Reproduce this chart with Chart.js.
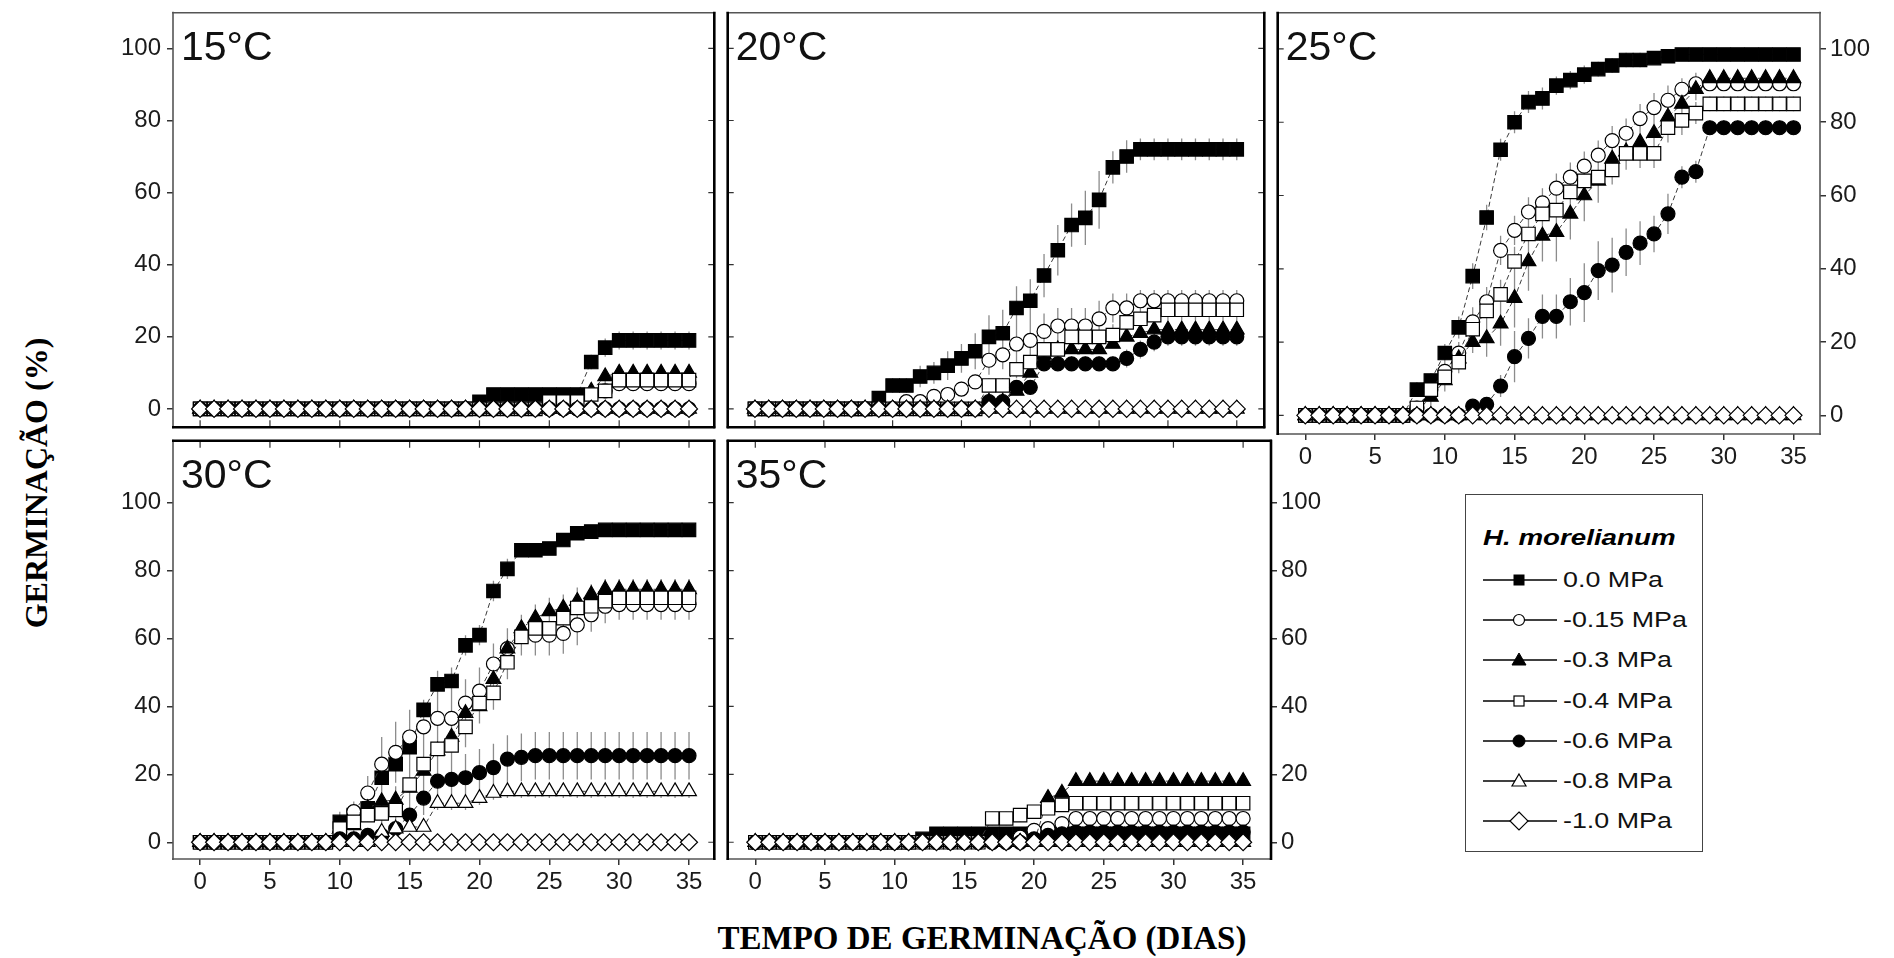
<!DOCTYPE html>
<html>
<head>
<meta charset="utf-8">
<script src="https://cdn.jsdelivr.net/npm/chart.js@4.4.1/dist/chart.umd.min.js"></script>
<style>
    body { margin: 0; background: #ffffff; }
    #page { position: relative; width: 1894px; height: 958px; overflow: hidden; background: #ffffff; font-family: "Liberation Sans", Arial, sans-serif; }
    #page canvas { position: absolute; }
    .axis-title { position: absolute; white-space: nowrap; font: bold 32px "Liberation Serif", "Times New Roman", serif; color: #000; }
    #legend { position: absolute; left: 1465px; top: 494px; width: 238px; height: 358px; border: 1.5px solid #444; box-sizing: border-box; }
    #legend .ltitle { position: absolute; left: 17px; top: 30px; line-height: 24px; font: italic bold 22px "Liberation Sans", Arial, sans-serif; transform: scaleX(1.26); transform-origin: left center; color: #000; }
    #legend .row { position: absolute; left: 17px; height: 24px; display: flex; align-items: center; }
    #legend .row span { display: inline-block; margin-left: 6px; font-size: 22px; color: #111; transform: scaleX(1.22); transform-origin: left center; white-space: nowrap; }
</style>
</head>
<body>
<div id="page">
    <div class="axis-title" style="left: 36px; top: 483px; transform: translate(-50%, -50%) rotate(-90deg);">GERMINAÇÃO (%)</div>
    <div class="axis-title" style="left: 982px; top: 938px; font-size: 33px; transform: translate(-50%, -50%);">TEMPO DE GERMINAÇÃO (DIAS)</div>
    <div id="legend"><div class="ltitle">H. morelianum</div></div>
</div>

<script>
// Categories and ticks
const days = [0, 1, 2, 3, 4, 5, 6, 7, 8, 9, 10, 11, 12, 13, 14, 15, 16, 17, 18, 19, 20, 21, 22, 23, 24, 25, 26, 27, 28, 29, 30, 31, 32, 33, 34, 35];
const xTicks = [0, 5, 10, 15, 20, 25, 30, 35];
const yTicks = [0, 20, 40, 60, 80, 100];
const seriesLabels = ["0.0 MPa", "-0.15 MPa", "-0.3 MPa", "-0.4 MPa", "-0.6 MPa", "-0.8 MPa", "-1.0 MPa"];
const panelLabels = ["15°C", "20°C", "25°C", "30°C", "35°C"];

// 15°C
const g15_00 = [0, 0, 0, 0, 0, 0, 0, 0, 0, 0, 0, 0, 0, 0, 0, 0, 0, 0, 0, 0, 2, 4, 4, 4, 4, 4, 4, 4, 13, 17, 19, 19, 19, 19, 19, 19];
const g15_015 = [0, 0, 0, 0, 0, 0, 0, 0, 0, 0, 0, 0, 0, 0, 0, 0, 0, 0, 0, 0, 0, 0, 0, 0, 0, 0, 0, 0, 4, 5, 7, 7, 7, 7, 7, 7];
const g15_03 = [0, 0, 0, 0, 0, 0, 0, 0, 0, 0, 0, 0, 0, 0, 0, 0, 0, 0, 0, 0, 0, 0, 0, 0, 0, 0, 0, 0, 5, 9, 10, 10, 10, 10, 10, 10];
const g15_04 = [0, 0, 0, 0, 0, 0, 0, 0, 0, 0, 0, 0, 0, 0, 0, 0, 0, 0, 0, 0, 0, 0, 0, 0, 0, 2, 2, 2, 4, 5, 8, 8, 8, 8, 8, 8];
const g15_06 = [0, 0, 0, 0, 0, 0, 0, 0, 0, 0, 0, 0, 0, 0, 0, 0, 0, 0, 0, 0, 0, 0, 0, 0, 0, 0, 0, 0, 0, 0, 0, 0, 0, 0, 0, 0];
const g15_08 = [0, 0, 0, 0, 0, 0, 0, 0, 0, 0, 0, 0, 0, 0, 0, 0, 0, 0, 0, 0, 0, 0, 0, 0, 0, 0, 0, 0, 0, 0, 0, 0, 0, 0, 0, 0];
const g15_10 = [0, 0, 0, 0, 0, 0, 0, 0, 0, 0, 0, 0, 0, 0, 0, 0, 0, 0, 0, 0, 0, 0, 0, 0, 0, 0, 0, 0, 0, 0, 0, 0, 0, 0, 0, 0];

// 20°C
const g20_00 = [0, 0, 0, 0, 0, 0, 0, 0, 0, 3, 6.5, 6.5, 9, 10, 12, 14, 16, 20, 21, 28, 30, 37, 44, 51, 53, 58, 67, 70, 72, 72, 72, 72, 72, 72, 72, 72];
const g20_015 = [0, 0, 0, 0, 0, 0, 0, 0, 0, 0, 0, 2, 2, 3.5, 4, 5.5, 7.5, 13.5, 15, 18, 19, 21.5, 23, 23, 23, 25, 28, 28, 30, 30, 30, 30, 30, 30, 30, 30];
const g20_03 = [0, 0, 0, 0, 0, 0, 0, 0, 0, 0, 0, 0, 0, 0, 0, 0, 0, 2, 2, 5, 10, 15, 16.5, 16.5, 16.5, 16.5, 18, 20, 21, 22, 22, 22, 22, 22, 22, 22];
const g20_04 = [0, 0, 0, 0, 0, 0, 0, 0, 0, 0, 0, 0, 0, 0, 0, 0, 0, 6.5, 6.5, 11, 13, 16.5, 16.5, 20, 20, 20, 20.5, 24, 25, 26, 27.5, 27.5, 27.5, 27.5, 27.5, 27.5];
const g20_06 = [0, 0, 0, 0, 0, 0, 0, 0, 0, 0, 0, 0, 0, 0, 0, 0, 0, 2, 2, 6, 6, 12.5, 12.5, 12.5, 12.5, 12.5, 12.5, 14, 16.5, 18.5, 20, 20, 20, 20, 20, 20];
const g20_08 = [0, 0, 0, 0, 0, 0, 0, 0, 0, 0, 0, 0, 0, 0, 0, 0, 0, 0, 0, 0, 0, 0, 0, 0, 0, 0, 0, 0, 0, 0, 0, 0, 0, 0, 0, 0];
const g20_10 = [0, 0, 0, 0, 0, 0, 0, 0, 0, 0, 0, 0, 0, 0, 0, 0, 0, 0, 0, 0, 0, 0, 0, 0, 0, 0, 0, 0, 0, 0, 0, 0, 0, 0, 0, 0];

// 25°C
const g25_00 = [0, 0, 0, 0, 0, 0, 0, 0, 7, 9.5, 17, 24, 38, 54, 72.5, 80, 85.5, 86.5, 90, 91.5, 93, 94.5, 95.5, 97, 97, 97.5, 98, 98.5, 98.5, 98.5, 98.5, 98.5, 98.5, 98.5, 98.5, 98.5];
const g25_015 = [0, 0, 0, 0, 0, 0, 0, 0, 2, 7, 12, 17, 25.5, 31, 45, 50.5, 55.5, 58, 62, 65, 68, 71, 75, 77, 81, 84, 86, 89, 90.5, 90.5, 90.5, 90.5, 90.5, 90.5, 90.5, 90.5];
const g25_03 = [0, 0, 0, 0, 0, 0, 0, 0, 1, 5, 9.5, 15.5, 20, 21, 25, 32, 42, 49, 50, 55, 60, 64, 70, 72, 74.5, 77, 81.5, 85, 89, 92, 92, 92, 92, 92, 92, 92];
const g25_04 = [0, 0, 0, 0, 0, 0, 0, 0, 2, 7, 10.5, 14.5, 23.5, 28.5, 33, 42, 49.5, 55, 56, 61, 64, 65, 67, 71.5, 71.5, 71.5, 78.5, 80.5, 82.5, 85, 85, 85, 85, 85, 85, 85];
const g25_06 = [0, 0, 0, 0, 0, 0, 0, 0, 0, 0, 0, 0, 2.5, 3, 8, 16, 21, 27, 27, 31, 33.5, 39.5, 41, 44.5, 47, 49.5, 55, 65, 66.5, 78.5, 78.5, 78.5, 78.5, 78.5, 78.5, 78.5];
const g25_08 = [0, 0, 0, 0, 0, 0, 0, 0, 0, 0, 0, 0, 0, 0, 0, 0, 0, 0, 0, 0, 0, 0, 0, 0, 0, 0, 0, 0, 0, 0, 0, 0, 0, 0, 0, 0];
const g25_10 = [0, 0, 0, 0, 0, 0, 0, 0, 0, 0, 0, 0, 0, 0, 0, 0, 0, 0, 0, 0, 0, 0, 0, 0, 0, 0, 0, 0, 0, 0, 0, 0, 0, 0, 0, 0];

// 30°C
const g30_00 = [0, 0, 0, 0, 0, 0, 0, 0, 0, 0, 6, 8, 10, 19, 23, 28, 39, 46.5, 47.5, 58, 61, 74, 80.5, 86, 86, 86.5, 89, 91, 91.5, 92, 92, 92, 92, 92, 92, 92];
const g30_015 = [0, 0, 0, 0, 0, 0, 0, 0, 0, 0, 3, 9, 14.5, 23, 26.5, 31, 34, 36.5, 36.5, 41, 44.5, 52.5, 57, 61, 61, 61, 61.5, 64, 67, 69.5, 70, 70, 70, 70, 70, 70];
const g30_03 = [0, 0, 0, 0, 0, 0, 0, 0, 0, 0, 2, 5, 10, 12, 12.5, 16, 21, 27, 31, 38, 40, 48, 57, 63, 66, 68, 69, 71, 73, 74.5, 74.5, 74.5, 74.5, 74.5, 74.5, 74.5];
const g30_04 = [0, 0, 0, 0, 0, 0, 0, 0, 0, 0, 4, 6, 8, 8.5, 9.5, 17, 23, 27.5, 28.5, 34, 41, 44, 53, 60.5, 63, 63, 66, 69, 69.5, 71, 72, 72, 72, 72, 72, 72];
const g30_06 = [0, 0, 0, 0, 0, 0, 0, 0, 0, 0, 1, 1, 2, 2, 4, 8, 13, 18, 18.5, 19, 20.5, 22, 24.5, 25, 25.5, 25.5, 25.5, 25.5, 25.5, 25.5, 25.5, 25.5, 25.5, 25.5, 25.5, 25.5];
const g30_08 = [0, 0, 0, 0, 0, 0, 0, 0, 0, 0, 0, 0, 0, 3, 4, 4.5, 4.5, 11.5, 11.5, 11.5, 13, 14.5, 15, 15, 15, 15, 15, 15, 15, 15, 15, 15, 15, 15, 15, 15];
const g30_10 = [0, 0, 0, 0, 0, 0, 0, 0, 0, 0, 0, 0, 0, 0, 0, 0, 0, 0, 0, 0, 0, 0, 0, 0, 0, 0, 0, 0, 0, 0, 0, 0, 0, 0, 0, 0];

// 35°C
const g35_00 = [0, 0, 0, 0, 0, 0, 0, 0, 0, 0, 0, 0, 1, 2.5, 2.5, 2.5, 2.5, 2.5, 2.5, 2.5, 2.5, 2.5, 2.5, 2.5, 2.5, 2.5, 2.5, 2.5, 2.5, 2.5, 2.5, 2.5, 2.5, 2.5, 2.5, 2.5];
const g35_015 = [0, 0, 0, 0, 0, 0, 0, 0, 0, 0, 0, 0, 0, 0, 0, 0, 0, 0, 0, 1.5, 3.5, 4, 5.5, 7, 7, 7, 7, 7, 7, 7, 7, 7, 7, 7, 7, 7];
const g35_03 = [0, 0, 0, 0, 0, 0, 0, 0, 0, 0, 0, 0, 0, 0, 0, 0, 0, 0, 0, 0, 0, 13, 14.5, 18, 18, 18, 18, 18, 18, 18, 18, 18, 18, 18, 18, 18];
const g35_04 = [0, 0, 0, 0, 0, 0, 0, 0, 0, 0, 0, 0, 0, 0, 0, 0, 0, 7, 7, 8, 9, 10, 11, 11.5, 11.5, 11.5, 11.5, 11.5, 11.5, 11.5, 11.5, 11.5, 11.5, 11.5, 11.5, 11.5];
const g35_06 = [0, 0, 0, 0, 0, 0, 0, 0, 0, 0, 0, 0, 0, 0, 0, 0, 0, 0, 0, 0, 1, 2, 2.5, 3, 3, 3, 3, 3, 3, 3, 3, 3, 3, 3, 3, 3];
const g35_08 = [0, 0, 0, 0, 0, 0, 0, 0, 0, 0, 0, 0, 0, 0, 0, 0, 0, 0, 0, 0, 0, 0, 0, 0, 0, 0, 0, 0, 0, 0, 0, 0, 0, 0, 0, 0];
const g35_10 = [0, 0, 0, 0, 0, 0, 0, 0, 0, 0, 0, 0, 0, 0, 0, 0, 0, 0, 0, 0, 0, 0, 0, 0, 0, 0, 0, 0, 0, 0, 0, 0, 0, 0, 0, 0];

// Standard errors (half length of the grey bars), only where they show
const e15_00 = [0, 0, 0, 0, 0, 0, 0, 0, 0, 0, 0, 0, 0, 0, 0, 0, 0, 0, 0, 0, 0, 0, 0, 0, 0, 0, 0, 0, 2, 2.5, 2.5, 2.5, 2.5, 2.5, 2.5, 2.5];
const e15_03 = [0, 0, 0, 0, 0, 0, 0, 0, 0, 0, 0, 0, 0, 0, 0, 0, 0, 0, 0, 0, 0, 0, 0, 0, 0, 0, 0, 0, 1.5, 2, 2, 2, 2, 2, 2, 2];
const e20_00 = [0, 0, 0, 0, 0, 0, 0, 0, 0, 1.5, 2, 2, 3, 3, 4, 4, 5, 6, 6.5, 6, 6, 6, 7, 6, 7.5, 8, 4.5, 4.5, 3, 3, 3, 3, 3, 3, 3, 3];
const e20_015 = [0, 0, 0, 0, 0, 0, 0, 0, 0, 0, 0, 0, 0, 2, 2, 2, 2, 4, 4, 5, 5, 5, 5, 5, 5, 5, 4, 4, 3, 3, 3, 3, 3, 3, 3, 3];
const e20_04 = [0, 0, 0, 0, 0, 0, 0, 0, 0, 0, 0, 0, 0, 0, 0, 0, 0, 2, 2, 2.5, 2.5, 3, 3, 3, 3, 3, 3, 3, 3, 3, 3, 3, 3, 3, 3, 3];
const e20_06 = [0, 0, 0, 0, 0, 0, 0, 0, 0, 0, 0, 0, 0, 0, 0, 0, 0, 0, 0, 0, 0, 2, 2, 2, 2, 2, 2, 2.5, 2.5, 2.5, 2.5, 2.5, 2.5, 2.5, 2.5, 2.5];
const e25_00 = [0, 0, 0, 0, 0, 0, 0, 0, 2, 2, 2.5, 3, 3.5, 3.5, 3, 3, 3, 3, 2.5, 2.5, 2.5, 2, 2, 2, 2, 1.5, 1.5, 1.5, 1.5, 1.5, 1.5, 1.5, 1.5, 1.5, 1.5, 1.5];
const e25_015 = [0, 0, 0, 0, 0, 0, 0, 0, 0, 0, 3, 3, 4, 4, 4, 4, 4, 4, 4, 4, 4, 4, 4, 4, 4, 4, 4, 3, 3, 2, 2, 2, 2, 2, 2, 2];
const e25_03 = [0, 0, 0, 0, 0, 0, 0, 0, 0, 3, 3, 3, 3, 5, 6, 8, 8, 7, 8, 7, 7, 6, 6, 5, 5, 5, 5, 4, 3, 2, 2, 2, 2, 2, 2, 2];
const e25_04 = [0, 0, 0, 0, 0, 0, 0, 0, 0, 0, 3, 3, 4, 4, 4, 4, 4, 4, 4, 4, 4, 4, 4, 4, 4, 4, 4, 4, 3, 2, 2, 2, 2, 2, 2, 2];
const e25_06 = [0, 0, 0, 0, 0, 0, 0, 0, 0, 0, 0, 0, 0, 0, 3, 7, 5.5, 6, 6, 6.5, 8, 8, 7.5, 6.5, 6, 5, 5.5, 3, 3, 2, 2, 2, 2, 2, 2, 2];
const e30_00 = [0, 0, 0, 0, 0, 0, 0, 0, 0, 0, 3, 3, 3, 3, 3, 3, 3, 4, 4, 3, 3, 3, 3, 1.5, 1.5, 1.5, 1.5, 1.5, 1.5, 1.5, 1.5, 1.5, 1.5, 1.5, 1.5, 1.5];
const e30_015 = [0, 0, 0, 0, 0, 0, 0, 0, 0, 0, 0, 3, 5, 8, 9, 8, 8, 8, 8, 7, 7, 6, 6, 6, 6, 6, 6, 6, 5, 5, 4.5, 4.5, 4.5, 4.5, 4.5, 4.5];
const e30_03 = [0, 0, 0, 0, 0, 0, 0, 0, 0, 0, 0, 2, 3, 4, 4, 4, 5, 5, 5, 5, 5, 5, 4, 4, 4, 4, 4, 4, 3, 3, 3, 3, 3, 3, 3, 3];
const e30_04 = [0, 0, 0, 0, 0, 0, 0, 0, 0, 0, 0, 0, 2, 3, 3, 6, 8, 8, 8, 6, 6, 5, 5, 5, 5, 5, 5, 5, 5, 5, 5, 5, 5, 5, 5, 5];
const e30_06 = [0, 0, 0, 0, 0, 0, 0, 0, 0, 0, 0, 0, 0, 0, 2, 5, 5, 6, 7, 7, 7, 7, 7, 7, 7, 7, 7, 7, 7, 7, 7, 7, 7, 7, 7, 7];
const e30_08 = [0, 0, 0, 0, 0, 0, 0, 0, 0, 0, 0, 0, 0, 0, 0, 0, 0, 2, 2, 2, 2, 2, 2, 2, 2, 2, 2, 2, 2, 2, 2, 2, 2, 2, 2, 2];
const e35_015 = [0, 0, 0, 0, 0, 0, 0, 0, 0, 0, 0, 0, 0, 0, 0, 0, 0, 0, 0, 0, 1.5, 1.5, 1.5, 2, 2, 2, 2, 2, 2, 2, 2, 2, 2, 2, 2, 2];
const e35_04 = [0, 0, 0, 0, 0, 0, 0, 0, 0, 0, 0, 0, 0, 0, 0, 0, 0, 2, 2, 2, 2, 2, 2, 2, 2, 2, 2, 2, 2, 2, 2, 2, 2, 2, 2, 2];

// Marker look for each water potential
const markers = [
    { shape: "rect", radius: 9.5, fill: "#000000" },
    { shape: "circle", radius: 7, fill: "#ffffff" },
    { shape: "triangle", radius: 8.5, fill: "#000000" },
    { shape: "rect", radius: 9.5, fill: "#ffffff" },
    { shape: "circle", radius: 7, fill: "#000000" },
    { shape: "triangle", radius: 8.5, fill: "#ffffff" },
    { shape: "rectRot", radius: 8.5, fill: "#ffffff" },
];

// Panel placement (frame = left, top, width, height of the plot box)
const panels = [
    { label: panelLabels[0], sets: [g15_00, g15_015, g15_03, g15_04, g15_06, g15_08, g15_10], errs: [e15_00, null, e15_03, null, null, null, null], frame: [173, 6, 548, 428], xRange: [-1.94, 36.81], yRange: [-5.1, 109.9], yAxis: "left", xAxis: false, inner: ["bottom", "right"], thick: ["right", "bottom"] },
    { label: panelLabels[1], sets: [g20_00, g20_015, g20_03, g20_04, g20_06, g20_08, g20_10], errs: [e20_00, e20_015, null, e20_04, e20_06, null, null], frame: [721, 6, 550, 428], xRange: [-1.98, 37.0], yRange: [-5.1, 109.9], yAxis: null, xAxis: false, inner: ["left", "right", "bottom"], thick: ["left", "right", "bottom"] },
    { label: panelLabels[2], sets: [g25_00, g25_015, g25_03, g25_04, g25_06, g25_08, g25_10], errs: [e25_00, e25_015, e25_03, e25_04, e25_06, null, null], frame: [1271, 6, 549, 428], xRange: [-1.98, 36.9], yRange: [-5.1, 109.9], yAxis: "right", xAxis: true, inner: ["left"], thick: ["left"] },
    { label: panelLabels[3], sets: [g30_00, g30_015, g30_03, g30_04, g30_06, g30_08, g30_10], errs: [e30_00, e30_015, e30_03, e30_04, e30_06, e30_08, null], frame: [173, 434, 548, 425], xRange: [-1.94, 36.81], yRange: [-4.93, 118.26], yAxis: "left", xAxis: true, inner: ["top", "right"], thick: ["top", "right"] },
    { label: panelLabels[4], sets: [g35_00, g35_015, g35_03, g35_04, g35_06, g35_08, g35_10], errs: [null, e35_015, null, e35_04, null, null, null], frame: [721, 434, 550, 425], xRange: [-1.98, 37.0], yRange: [-4.93, 118.26], yAxis: "right", xAxis: true, inner: ["top", "left"], thick: ["top", "left", "right"] },
];

const M = 4;        // spare room round each plot box
const AXIS_W = 62;  // room for y tick labels
const AXIS_H = 46;  // room for x tick labels
const tickFont = { family: "'Liberation Sans', Arial, sans-serif", size: 24 };

// Grey error bars, drawn under the markers
function makeErrorBars(p) {
    return {
        id: "errorBars",
        beforeDatasetsDraw(chart) {
            const { ctx, scales } = chart;
            ctx.save();
            ctx.strokeStyle = "#8c8c8c";
            ctx.lineWidth = 1.3;
            ctx.beginPath();
            p.errs.forEach((err, i) => {
                if (!err) return;
                p.sets[i].forEach((v, k) => {
                    if (!err[k]) return;
                    const x = scales.x.getPixelForValue(days[k]);
                    ctx.moveTo(x, scales.y.getPixelForValue(v - err[k]));
                    ctx.lineTo(x, scales.y.getPixelForValue(v + err[k]));
                });
            });
            ctx.stroke();
            ctx.restore();
        },
    };
}

// Frame, inner ticks and temperature label
function makeFrame(p) {
    return {
        id: "frame",
        afterDraw(chart) {
            const { ctx, chartArea: a, scales } = chart;
            ctx.save();

            ctx.strokeStyle = "#333333";
            ctx.lineWidth = 1.2;
            ctx.beginPath();
            p.inner.forEach((side) => {
                if (side === "top" || side === "bottom") {
                    const y0 = side === "top" ? a.top : a.bottom;
                    const dir = side === "top" ? 1 : -1;
                    xTicks.forEach((v) => {
                        const x = scales.x.getPixelForValue(v);
                        ctx.moveTo(x, y0);
                        ctx.lineTo(x, y0 + dir * 7);
                    });
                } else {
                    const x0 = side === "left" ? a.left : a.right;
                    const dir = side === "left" ? 1 : -1;
                    yTicks.forEach((v) => {
                        const y = scales.y.getPixelForValue(v);
                        ctx.moveTo(x0, y);
                        ctx.lineTo(x0 + dir * 6, y);
                    });
                }
            });
            ctx.stroke();

            const edges = {
                top: [a.left - 1, a.top, a.right + 1, a.top],
                bottom: [a.left - 1, a.bottom, a.right + 1, a.bottom],
                left: [a.left, a.top - 1, a.left, a.bottom + 1],
                right: [a.right, a.top - 1, a.right, a.bottom + 1],
            };
            const order = ["top", "bottom", "left", "right"].filter((s) => !p.thick.includes(s)).concat(p.thick);
            order.forEach((side) => {
                const e = edges[side];
                const thick = p.thick.includes(side);
                ctx.strokeStyle = thick ? "#000000" : "#555555";
                ctx.lineWidth = thick ? 2.6 : 1.6;
                ctx.beginPath();
                ctx.moveTo(e[0], e[1]);
                ctx.lineTo(e[2], e[3]);
                ctx.stroke();
            });

            ctx.fillStyle = "#111111";
            ctx.font = "41px 'Liberation Sans', Arial, sans-serif";
            ctx.textBaseline = "alphabetic";
            ctx.fillText(p.label, a.left + 8, a.top + 47);
            ctx.restore();
        },
    };
}

// Build the five panels
const page = document.getElementById("page");

panels.forEach((p) => {
    const [fx, fy, fw, fh] = p.frame;
    const padL = p.yAxis === "left" ? AXIS_W : 0;
    const padR = p.yAxis === "right" ? AXIS_W : 0;
    const padB = p.xAxis ? AXIS_H : 0;

    const canvas = document.createElement("canvas");
    canvas.width = fw + padL + padR + 2 * M;
    canvas.height = fh + padB + 2 * M;
    canvas.style.left = fx - padL - M + "px";
    canvas.style.top = fy - M + "px";
    canvas.style.width = canvas.width + "px";
    canvas.style.height = canvas.height + "px";
    page.appendChild(canvas);

    new Chart(canvas.getContext("2d"), {
        type: "line",
        data: {
            datasets: p.sets.map((values, i) => ({
                label: seriesLabels[i],
                data: days.map((d, k) => ({ x: d, y: values[k] })),
                borderColor: "#3a3a3a",
                borderWidth: 1,
                borderDash: [5, 3],
                tension: 0,
                pointStyle: markers[i].shape,
                pointRadius: markers[i].radius,
                pointHoverRadius: markers[i].radius,
                pointBackgroundColor: markers[i].fill,
                pointBorderColor: "#000000",
                pointBorderWidth: 1.2,
                order: 6 - i,
            })),
        },
        options: {
            animation: false,
            responsive: false,
            maintainAspectRatio: false,
            events: [],
            layout: { padding: M },
            plugins: {
                legend: { display: false },
                tooltip: { enabled: false },
            },
            scales: {
                x: {
                    type: "linear",
                    min: p.xRange[0],
                    max: p.xRange[1],
                    display: p.xAxis,
                    afterBuildTicks: (s) => { s.ticks = xTicks.map((v) => ({ value: v })); },
                    afterFit: (s) => {
                        s.paddingLeft = 0;
                        s.paddingRight = 0;
                        if (p.xAxis) s.height = AXIS_H;
                    },
                    grid: { drawOnChartArea: false, drawTicks: true, tickLength: 6, color: "#333333", lineWidth: 1.5 },
                    border: { display: false },
                    ticks: { font: tickFont, color: "#1b1b1b", padding: 3, maxRotation: 0, autoSkip: false },
                },
                y: {
                    type: "linear",
                    position: p.yAxis || "left",
                    min: p.yRange[0],
                    max: p.yRange[1],
                    display: !!p.yAxis,
                    afterBuildTicks: (s) => { s.ticks = yTicks.map((v) => ({ value: v })); },
                    afterFit: (s) => {
                        s.paddingTop = 0;
                        s.paddingBottom = 0;
                        if (p.yAxis) s.width = AXIS_W;
                    },
                    grid: { drawOnChartArea: false, drawTicks: true, tickLength: 6, color: "#333333", lineWidth: 1.5 },
                    border: { display: false },
                    ticks: { font: tickFont, color: "#1b1b1b", padding: p.yAxis === "left" ? 6 : 4, autoSkip: false },
                },
            },
        },
        plugins: [makeErrorBars(p), makeFrame(p)],
    });
});

// Legend box
const legend = document.getElementById("legend");
const legendIcons = [
    '<rect x="31" y="5" width="10" height="10" fill="#000" stroke="#000" stroke-width="1"/>',
    '<circle cx="36" cy="10" r="5.5" fill="#fff" stroke="#000" stroke-width="1.2"/>',
    '<polygon points="36,3 43,15 29,15" fill="#000" stroke="#000" stroke-width="1"/>',
    '<rect x="31" y="5" width="10" height="10" fill="#fff" stroke="#000" stroke-width="1.2"/>',
    '<circle cx="36" cy="10" r="6" fill="#000" stroke="#000" stroke-width="1"/>',
    '<polygon points="36,3 43,15 29,15" fill="#fff" stroke="#000" stroke-width="1.2"/>',
    '<polygon points="36,1 45,10 36,19 27,10" fill="#fff" stroke="#000" stroke-width="1.2"/>',
];

seriesLabels.forEach((name, i) => {
    const row = document.createElement("div");
    row.className = "row";
    row.style.top = 85 + i * 40.2 - 12 + "px";
    row.innerHTML =
        '<svg width="74" height="20" viewBox="0 0 74 20">' +
        '<line x1="0" y1="10" x2="74" y2="10" stroke="#000" stroke-width="1.3"/>' +
        legendIcons[i] +
        "</svg><span>" + name + "</span>";
    legend.appendChild(row);
});
</script>
</body>
</html>
